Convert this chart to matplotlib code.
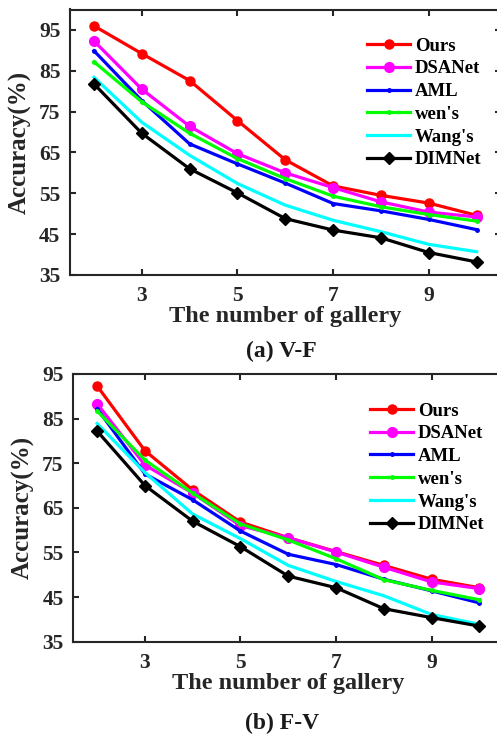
import matplotlib
matplotlib.use("Agg")
import matplotlib.pyplot as plt

# data
gallery = [2, 3, 4, 5, 6, 7, 8, 9, 10]
methods = ["Ours", "DSANet", "AML", "wen's", "Wang's", "DIMNet"]

vf_ours = [96.0, 89.2, 82.6, 72.8, 63.2, 56.8, 54.5, 52.6, 49.6]
vf_dsanet = [92.3, 80.5, 71.4, 64.7, 60.0, 56.4, 52.9, 50.4, 49.2]
vf_aml = [89.9, 77.7, 67.1, 62.2, 57.5, 52.5, 50.7, 48.6, 46.1]
vf_wen = [87.2, 77.4, 69.7, 63.5, 58.6, 54.3, 51.7, 49.8, 48.2]
vf_wang = [83.4, 72.4, 64.3, 57.4, 52.1, 48.4, 45.6, 42.5, 40.7]
vf_dimnet = [81.8, 69.7, 61.0, 55.1, 48.8, 46.0, 44.1, 40.5, 38.2]

fv_ours = [92.3, 77.8, 69.0, 61.8, 58.3, 55.2, 52.1, 49.0, 47.1]
fv_dsanet = [88.3, 74.6, 68.3, 61.0, 58.3, 55.1, 51.7, 48.4, 46.9]
fv_aml = [87.2, 72.6, 66.8, 59.8, 54.6, 52.3, 49.0, 46.4, 43.7]
fv_wen = [86.7, 75.7, 68.3, 61.4, 57.8, 53.6, 48.9, 46.5, 44.4]
fv_wang = [83.9, 72.9, 63.6, 58.1, 52.1, 48.5, 45.3, 41.1, 38.9]
fv_dimnet = [82.2, 70.0, 62.0, 56.3, 49.7, 47.1, 42.4, 40.4, 38.5]

xticks = [3, 5, 7, 9]
yticks = [35, 45, 55, 65, 75, 85, 95]

colors = ["#ff0000", "#ff00ff", "#0000ff", "#00ff00", "#00ffff", "#000000"]
markers = ["o", "o", ".", ".", "", "D"]
msizes = [6.5, 7, 5, 5, 0, 6]

W, H = 497, 734
plt.rcParams["font.family"] = ["Liberation Serif", "DejaVu Serif"]
plt.rcParams["font.weight"] = "bold"
fig = plt.figure(figsize=(W / 100, H / 100), dpi=100)


def px_axes(left, right, top, bottom):
    return fig.add_axes([left / W, 1 - bottom / H, (right - left) / W, (bottom - top) / H])


def draw_panel(ax, series, ylim, xlab_y, ylab_x, leg_anchor):
    for vals, name, c, m, ms in zip(series, methods, colors, markers, msizes):
        ax.plot(gallery, vals, color=c, lw=2.3, marker=m, ms=ms, mfc=c, mec=c, label=name)
    ax.set_xlim(1.5, 10.5)
    ax.set_ylim(*ylim)
    ax.set_xticks(xticks)
    ax.set_yticks(yticks)
    ax.tick_params(direction="in", top=True, right=True, length=4, width=1.5,
                   color="#262626", labelsize=15.5, labelcolor="#262626")
    ax.tick_params(axis="x", pad=8)
    ax.tick_params(axis="y", pad=7)
    for s in ax.spines.values():
        s.set_linewidth(1.5)
        s.set_color("#262626")
    for lab in ax.get_xticklabels() + ax.get_yticklabels():
        lab.set_fontweight("bold")
    ax.set_xlabel("The number of gallery", fontsize=17.5, fontweight="bold", color="#262626")
    ax.xaxis.set_label_coords(0.5, xlab_y)
    ax.set_ylabel("Accuracy(%)", fontsize=18, fontweight="bold", color="#262626")
    ax.yaxis.set_label_coords(ylab_x, 0.5)
    ax.legend(loc="upper left", bbox_to_anchor=leg_anchor, frameon=False,
              prop={"size": 13.5, "weight": "bold"}, handlelength=2.3,
              handletextpad=0.25, labelspacing=0.3, borderaxespad=0)


ax1 = px_axes(70, 500.6, 9.5, 275)
draw_panel(ax1, [vf_ours, vf_dsanet, vf_aml, vf_wen, vf_wang, vf_dimnet],
           (35, 100), -0.118, -0.088, (0.673, 0.923))

ax2 = px_axes(73.3, 503.2, 374, 641.7)
draw_panel(ax2, [fv_ours, fv_dsanet, fv_aml, fv_wen, fv_wang, fv_dimnet],
           (35, 95), -0.118, -0.089, (0.673, 0.922))

fig.text(281.7 / W, 1 - 357 / H, "(a) V-F", ha="center", va="baseline",
         fontsize=17, fontweight="bold", color="#1a1a1a")
fig.text(281.7 / W, 1 - 729 / H, "(b) F-V", ha="center", va="baseline",
         fontsize=17, fontweight="bold", color="#1a1a1a")

fig.savefig("out.png", dpi=100)
